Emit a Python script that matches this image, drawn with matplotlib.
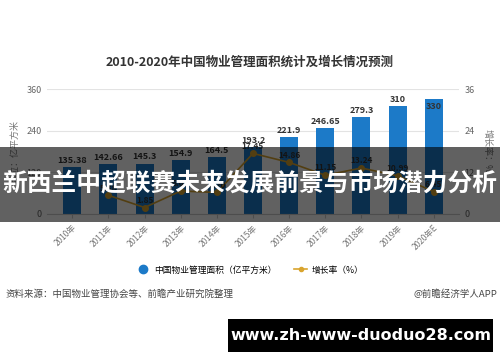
import matplotlib
matplotlib.use("Agg")
import matplotlib.pyplot as plt
from matplotlib.lines import Line2D
from matplotlib.patches import Rectangle
import numpy as np

plt.rcParams['font.family'] = ['Noto Sans CJK SC', 'DejaVu Sans']

years = ["2010年", "2011年", "2012年", "2013年", "2014年", "2015年",
         "2016年", "2017年", "2018年", "2019年", "2020年E"]
area = [135.38, 142.66, 145.3, 154.9, 164.5, 193.2, 221.9, 246.65, 279.3, 310, 330]
area_labels = ["135.38", "142.66", "145.3", "154.9", "164.5", "193.2",
               "221.9", "246.65", "279.3", "310", "330"]
growth_years = years[1:]
growth = [5.38, 1.85, 6.61, 6.2, 17.45, 14.86, 11.15, 13.24, 10.99, 6.45]
left_ticks = [0, 120, 240, 360]
right_ticks = [0, 12, 24, 36]

bar_color = "#1c7ac8"
line_color = "#d9a42e"

fig = plt.figure(figsize=(5, 3.62), dpi=100)
ax = fig.add_axes([0.094, 0.409, 0.824, 0.345])
x = np.arange(len(years))
ax.bar(x, area, width=0.5, color=bar_color, zorder=2)
ax.set_xlim(-0.7, len(years) - 0.3)
ax.set_ylim(0, 360)
ax.set_yticks(left_ticks)
ax.set_yticklabels([str(t) for t in left_ticks])
ax.grid(axis='y', color='#e3e3e3', linewidth=0.8, zorder=0)
for s in ['top', 'right', 'left']:
    ax.spines[s].set_visible(False)
ax.spines['bottom'].set_color('#cccccc')
ax.tick_params(axis='y', length=0, labelsize=6.5, labelcolor='#666666', pad=4)
ax.tick_params(axis='x', length=3, color='#cccccc', labelsize=6, labelcolor='#777777')
ax.set_xticks(x)
ax.set_xticklabels(years, rotation=45, ha='right', rotation_mode='anchor')
ax.set_ylabel("单位：亿平方米", fontsize=6.5, color='#777777', labelpad=5)

for i, (v, lab) in enumerate(zip(area, area_labels)):
    if i == len(area) - 1:
        ax.text(i, v - 6, lab, ha='center', va='top', fontsize=6.5,
                fontweight='bold', color='#333333', zorder=5)
    else:
        ax.text(i, v + 6, lab, ha='center', va='bottom', fontsize=6.5,
                fontweight='bold', color='#333333', zorder=5)

ax2 = ax.twinx()
ax2.set_ylim(0, 36)
ax2.set_yticks(right_ticks)
ax2.set_yticklabels([str(t) for t in right_ticks])
for s in ['top', 'right', 'left', 'bottom']:
    ax2.spines[s].set_visible(False)
ax2.tick_params(axis='y', length=0, labelsize=6.5, labelcolor='#666666', pad=4)
ax2.set_ylabel("增长率：%", fontsize=6.5, color='#777777', rotation=270, labelpad=12)
gx = np.arange(1, len(years))
ax2.plot(gx, growth, color=line_color, linewidth=1.2, marker='o', markersize=4, zorder=4)
for xi, g in zip(gx, growth):
    ax2.text(xi, g + 0.8, f"{g:.2f}", ha='center', va='bottom', fontsize=6,
             fontweight='bold', color='#333333', zorder=5)

fig.text(0.5, 1 - 62 / 362, "2010-2020年中国物业管理面积统计及增长情况预测",
         ha='center', va='center', fontsize=9, fontweight='bold', color='#333333')

handles = [Line2D([], [], color=bar_color, marker='o', linestyle='none', markersize=6),
           Line2D([], [], color=line_color, marker='o', linewidth=1.2, markersize=3)]
fig.legend(handles, ["中国物业管理面积（亿平方米）", "增长率（%）"], loc='center',
           bbox_to_anchor=(0.5, 1 - 270 / 362), ncol=2, frameon=False, fontsize=6.3,
           handlelength=1.5, columnspacing=2.0, handletextpad=0.5)

fig.text(0.01, 1 - 294 / 362, "资料来源：中国物业管理协会等、前瞻产业研究院整理",
         ha='left', va='center', fontsize=6.8, color='#444444')
fig.text(0.994, 1 - 294 / 362, "@前瞻经济学人APP",
         ha='right', va='center', fontsize=6.8, color='#444444')

# overlay band with headline
fig.patches.append(Rectangle((0, 1 - 222 / 362), 1, 75 / 362, transform=fig.transFigure,
                             facecolor='black', alpha=0.62, edgecolor='none', zorder=10))
fig.text(0.5, 1 - 185 / 362, "新西兰中超联赛未来发展前景与市场潜力分析",
         ha='center', va='center', fontsize=17.8, fontweight='bold', color='white', zorder=11)

# bottom watermark box
fig.patches.append(Rectangle((228 / 500, 1 - 352 / 362), 265 / 500, 33 / 362,
                             transform=fig.transFigure, facecolor='black',
                             edgecolor='none', zorder=10))
fig.text(360.5 / 500, 1 - 336 / 362, "www.zh-www-duoduo28.com", ha='center', va='center',
         fontsize=11.5, fontweight='bold', color='white', family='DejaVu Sans', zorder=11)

fig.savefig("out.png", dpi=100)
